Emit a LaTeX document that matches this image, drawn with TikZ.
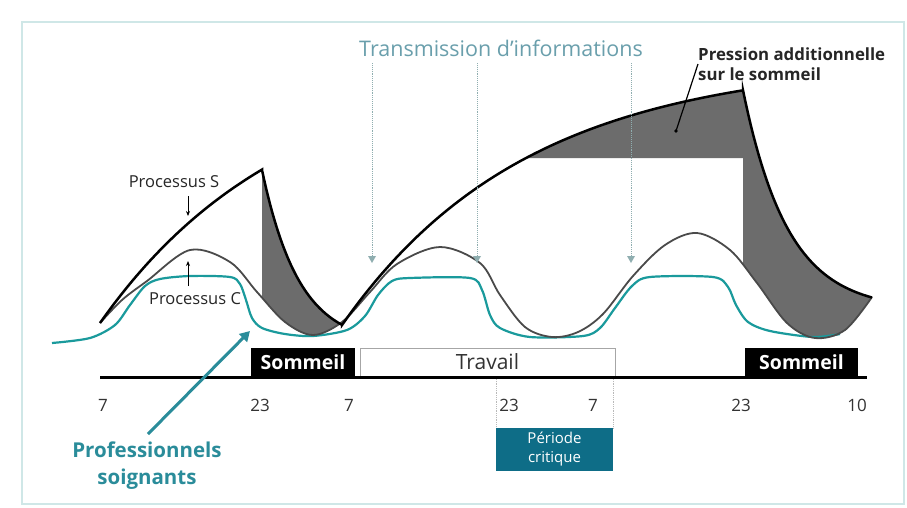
\documentclass[tikz,border=0pt]{standalone}
\usepackage{fontspec}
\setmainfont{Open Sans}
\usetikzlibrary{arrows.meta}
\definecolor{tealcurve}{HTML}{1A9A9C}
\definecolor{tealtxt}{HTML}{2A8C9A}
\definecolor{titletxt}{HTML}{6A9FAC}
\definecolor{critbox}{HTML}{0E6D87}
\definecolor{fillgray}{HTML}{6C6C6C}
\definecolor{ccurve}{HTML}{4A4A4A}
\definecolor{framec}{HTML}{CFE7E7}
\definecolor{infoc}{HTML}{8FAEB0}
\definecolor{ticktxt}{HTML}{333333}
\begin{document}
\begin{tikzpicture}[x=1pt,y=-1pt,
  sleepbox/.style={fill=black,text=white,minimum height=29pt,inner sep=0pt,font=\fontsize{19.5}{21}\selectfont\bfseries},
  workbox/.style={draw=gray!70,line width=1pt,fill=white,text=ticktxt,minimum height=28pt,inner sep=0pt,font=\fontsize{21}{23}\selectfont},
  tick/.style={text=ticktxt,font=\fontsize{17}{19}\selectfont,inner sep=0pt},
  lbl/.style={text=black!85,font=\fontsize{16.5}{18}\selectfont,inner sep=0pt},
  infoarrow/.style={draw=infoc,line width=0.9pt,densely dotted,-{Triangle[width=8pt,length=7pt,fill=infoc,line width=0pt]}},
  smallarrow/.style={draw=black,line width=1pt,-{Stealth[length=5pt,width=4pt]}},
  profarrow/.style={draw=tealtxt,line width=3pt,-{Triangle[width=11pt,length=10pt]}},
]
\useasboundingbox (0,0) rectangle (907,507);
\fill[white] (0,0) rectangle (907,507);
\draw[framec,line width=2pt] (22,22) rectangle (904,504);

% gray fills, clipped to the region above process C
\begin{scope}
\clip plot[smooth,tension=0.55] coordinates {(100,323) (122,300) (147,281) (190,250) (230,262) (257,292) (285,322) (313,335) (342,322) (370,292) (397,264) (440,247) (480,263) (500,295) (525,327) (552,337) (578,332) (603,314) (633,276) (665,245) (697,233) (730,250) (757,283) (787,323) (815,338) (845,330) (872,297)} -- (872,0) -- (100,0) -- cycle;
\fill[fillgray] plot[domain=262:342,samples=50] (\x,{345-175*exp(-(\x-262)/37)}) -- (342,420) -- (262,420) -- cycle;
\fill[fillgray] plot[domain=743:872,samples=60] (\x,{310-219.7*exp(-(\x-743)/45)}) -- (872,420) -- (743,420) -- cycle;
\end{scope}
\fill[fillgray] plot[domain=526:743,samples=50] (\x,{60+265*exp(-(\x-342)/185)}) -- (743,158) -- cycle;

% teal curve
\draw[tealcurve,line width=2.2pt] plot[smooth,tension=0.5] coordinates {(52,343) (90,338) (115,325) (130,305) (145,286) (160,279) (190,276) (230,277) (240,284) (246,300) (252,318) (262,328) (285,334) (313,336) (347,330) (365,316) (378,295) (392,281) (410,278) (470,278) (482,290) (490,315) (500,328) (530,337) (583,336) (600,328) (615,308) (632,286) (650,277) (713,277) (728,287) (736,305) (748,322) (770,331) (813,337) (840,334)};
% process C
\draw[ccurve,line width=1.8pt] plot[smooth,tension=0.55] coordinates {(100,323) (122,300) (147,281) (190,250) (230,262) (257,292) (285,322) (313,335) (342,322) (370,292) (397,264) (440,247) (480,263) (500,295) (525,327) (552,337) (578,332) (603,314) (633,276) (665,245) (697,233) (730,250) (757,283) (787,323) (815,338) (845,330) (872,297)};
% process S
\draw[black,line width=2.5pt,line join=miter] plot[domain=100:262,samples=50] (\x,{60+263*exp(-(\x-100)/185)})
  -- plot[domain=262:342,samples=40] (\x,{345-175*exp(-(\x-262)/37)})
  -- plot[domain=342:743,samples=80] (\x,{60+265*exp(-(\x-342)/185)})
  -- plot[domain=743:872,samples=50] (\x,{310-219.7*exp(-(\x-743)/45)});

% title and information arrows
\node[text=titletxt,font=\fontsize{21.5}{23}\selectfont,inner sep=0pt] (ttl) at (501,48) {Transmission d'informations};
\coordinate (t1) at (372,63); \coordinate (e1) at (372,263);
\coordinate (t2) at (477,63); \coordinate (e2) at (477,263);
\coordinate (t3) at (631,63); \coordinate (e3) at (631,263);
\draw[infoarrow] (t1) -- (e1);
\draw[infoarrow] (t2) -- (e2);
\draw[infoarrow] (t3) -- (e3);

% pression label
\node[anchor=west,align=left,text=black!85,font=\fontsize{16.8}{20}\selectfont\bfseries,inner sep=0pt] (press) at (698,64) {Pression additionnelle\\sur le sommeil};
\coordinate (pressdot) at (676,131);
\draw[black,line width=1.2pt] (pressdot) -- (press.west);
\fill[black] (pressdot) circle (1.8pt);

% process labels
\node[lbl] (ps) at (174,182) {Processus S};
\coordinate (psend) at (188,216);
\coordinate (psstart) at (188,196);
\draw[smallarrow] (psstart) -- (psend);
\node[lbl] (pc) at (195,299) {Processus C};
\coordinate (pcend) at (188,261);
\coordinate (pcstart) at (188,286);
\draw[smallarrow] (pcstart) -- (pcend);

% boxes and axis
\node[sleepbox,minimum width=104pt] (sl1) at (303,362.5) {Sommeil};
\node[workbox,minimum width=255pt] (work) at (487.5,362) {Travail};
\node[sleepbox,minimum width=113pt] (sl2) at (801.5,362.5) {Sommeil};
\draw[black,line width=3pt] (100,377) -- (867,377);

% ticks
\node[tick] (k1) at (103,405) {7};
\node[tick] (k2) at (260,405) {23};
\node[tick] (k3) at (349,405) {7};
\node[tick] (k4) at (509,405) {23};
\node[tick] (k5) at (593,405) {7};
\node[tick] (k6) at (741,405) {23};
\node[tick] (k7) at (857,405) {10};

% critical period
\draw[gray!55,line width=0.8pt,densely dotted] (496,379) -- (496,428);
\draw[gray!55,line width=0.8pt,densely dotted] (613,379) -- (613,428);
\node[fill=critbox,text=white,minimum width=117pt,minimum height=43pt,inner sep=0pt,align=center,font=\fontsize{15}{19}\selectfont] (crit) at (554.5,449.5) {Période\\critique};

% professionnels soignants
\node[text=tealtxt,align=center,font=\fontsize{20.5}{27}\selectfont\bfseries,inner sep=0pt] (prof) at (147,466) {Professionnels\\soignants};
\coordinate (profstart) at (148,434);
\coordinate (profend) at (250,331);
\draw[profarrow] (profstart) -- (profend);
\end{tikzpicture}
\end{document}
